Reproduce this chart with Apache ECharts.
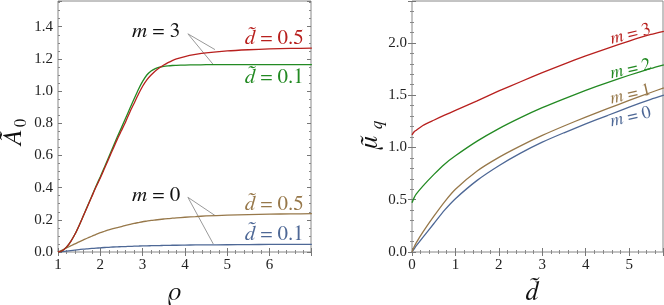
<!DOCTYPE html>
<html><head><meta charset="utf-8">
<script src="https://cdn.jsdelivr.net/npm/echarts@6/dist/echarts.min.js"></script>
<style>html,body{margin:0;padding:0;background:#fff}#c{width:664px;height:305px}</style>
</head><body><div id="c"></div>
<script>
// ---- Left panel data: A0 vs rho ----
const rho      = [1,1.1,1.2,1.3,1.4,1.5,1.6,1.7,1.8,1.9,2,2.1,2.2,2.3,2.4,2.5,2.6,2.7,2.8,2.9,3,3.1,3.2,3.3,3.4,3.5,3.6,3.7,3.8,4,4.25,4.5,5,5.5,6,6.5,7];
const A_m3_d05 = [0,0.008,0.03,0.065,0.11,0.165,0.225,0.285,0.345,0.405,0.46,0.52,0.58,0.64,0.70,0.755,0.81,0.87,0.925,0.98,1.03,1.07,1.10,1.125,1.145,1.162,1.177,1.19,1.20,1.215,1.228,1.238,1.25,1.257,1.262,1.265,1.267];
const A_m3_d01 = [0,0.008,0.03,0.065,0.11,0.165,0.225,0.287,0.348,0.41,0.468,0.528,0.59,0.652,0.714,0.773,0.833,0.893,0.952,1.01,1.06,1.10,1.125,1.14,1.149,1.154,1.157,1.159,1.16,1.162,1.163,1.164,1.165,1.165,1.165,1.165,1.165];
const A_m0_d05 = [0,0.012,0.025,0.038,0.05,0.063,0.075,0.087,0.098,0.11,0.12,0.129,0.138,0.146,0.152,0.158,0.166,0.172,0.178,0.183,0.188,0.192,0.196,0.199,0.202,0.205,0.208,0.21,0.212,0.216,0.22,0.224,0.229,0.232,0.235,0.237,0.238];
const A_m0_d01 = [0,0.003,0.006,0.009,0.012,0.015,0.018,0.02,0.022,0.024,0.026,0.028,0.029,0.031,0.032,0.033,0.034,0.035,0.036,0.037,0.038,0.038,0.039,0.04,0.04,0.041,0.041,0.042,0.042,0.043,0.044,0.044,0.045,0.046,0.047,0.047,0.048];
// ---- Right panel data: mu_q vs d ----
const dvals = [0,0.05,0.1,0.25,0.5,0.75,1,1.5,2,2.5,3,3.5,4,4.5,5,5.5,5.8];
const mu_m3 = [1.12,1.15,1.165,1.21,1.26,1.308,1.354,1.445,1.54,1.628,1.715,1.797,1.875,1.948,2.017,2.08,2.11];
const mu_m2 = [0.47,0.52,0.555,0.63,0.74,0.84,0.92,1.06,1.18,1.285,1.38,1.465,1.545,1.62,1.69,1.755,1.79];
const mu_m1 = [0,0.05,0.09,0.19,0.34,0.48,0.60,0.775,0.905,1.015,1.115,1.205,1.29,1.37,1.45,1.525,1.57];
const mu_m0 = [0,0.03,0.06,0.14,0.27,0.40,0.51,0.685,0.825,0.945,1.05,1.14,1.225,1.305,1.385,1.46,1.50];

const C = {red:'#B8201E', green:'#238A23', brown:'#97784A', blue:'#4E6896'};
const FONT = 'Liberation Serif';
const MATH = 'FreeSerif';
const zip = (xs, ys) => xs.map((x,i)=>[x, ys[i]]);

function fmtStep(step){ return v => Math.abs(v/step - Math.round(v/step)) < 1e-6 ? v.toFixed(1) : ''; }
function fmtInt(v){ return Math.abs(v-Math.round(v))<1e-6 ? String(Math.round(v)) : ''; }

const tickStyle = {inside:true, length:4, lineStyle:{color:'#777', width:1}};
const minorStyle = (n)=>({show:true, splitNumber:n, length:2, lineStyle:{color:'#888', width:1}});
const lbl = {fontFamily:FONT, fontSize:15, color:'#222'};

function xAx(grid, min, max, pos, labels, minorN){
  return {type:'value', gridIndex:grid, min, max, interval:1, position:pos,
    axisLine:{show:false}, splitLine:{show:false},
    axisTick:tickStyle, minorTick:minorStyle(minorN),
    axisLabel: labels ? Object.assign({formatter:fmtInt, margin:6, showMaxLabel:false}, lbl) : {show:false}};
}
function yAx(grid, min, max, step, pos, labels, minorN){
  return {type:'value', gridIndex:grid, min, max, interval:step, position:pos,
    axisLine:{show:false}, splitLine:{show:false},
    axisTick:tickStyle, minorTick:minorStyle(minorN),
    axisLabel: labels ? Object.assign({formatter:fmtStep(step), margin:5, showMaxLabel:false}, lbl) : {show:false}};
}
const line = (x, y, data, color) => ({type:'line', xAxisIndex:x, yAxisIndex:y, data, showSymbol:false, symbol:'none',
  smooth:0.2, lineStyle:{color, width:1.3}, silent:true, animation:false});

const chart = echarts.init(document.getElementById('c'), null, {renderer:'canvas'});
chart.setOption({
  animation:false,
  textStyle:{fontFamily:FONT},
  grid:[
    {left:58, top:1, width:253, height:251, show:true, borderColor:'#888', borderWidth:1},
    {left:412, top:1, width:251, height:251, show:true, borderColor:'#888', borderWidth:1}
  ],
  xAxis:[
    xAx(0, 1, 6.98, 'bottom', true, 5),
    xAx(0, 1, 6.98, 'top', false, 5),
    xAx(1, 0, 5.78, 'bottom', true, 5),
    xAx(1, 0, 5.78, 'top', false, 5)
  ],
  yAxis:[
    yAx(0, 0, 1.56, 0.2, 'left', true, 4),
    yAx(0, 0, 1.56, 0.2, 'right', false, 4),
    yAx(1, 0, 2.4, 0.5, 'left', true, 5),
    yAx(1, 0, 2.4, 0.5, 'right', false, 5)
  ],
  series:[
    line(0,0, zip(rho, A_m0_d01), C.blue),
    line(0,0, zip(rho, A_m0_d05), C.brown),
    line(0,0, zip(rho, A_m3_d01), C.green),
    line(0,0, zip(rho, A_m3_d05), C.red),
    line(2,2, zip(dvals, mu_m0), C.blue),
    line(2,2, zip(dvals, mu_m1), C.brown),
    line(2,2, zip(dvals, mu_m2), C.green),
    line(2,2, zip(dvals, mu_m3), C.red)
  ]
});

// annotations positioned through the chart's own coordinate conversion
const P = (g, pt) => chart.convertToPixel({seriesIndex: g === 0 ? 0 : 4}, pt);
const rich = (color, size) => ({
  i:{fontFamily:MATH, fontStyle:'italic', fontSize:size, fill:color},
  n:{fontFamily:MATH, fontSize:size, fill:color}
});
const els = [];
function txt(g, pt, text, color, size, rot){
  const p = P(g, pt);
  els.push({type:'text', x:p[0], y:p[1], rotation:(rot||0)*Math.PI/180, silent:true,
    style:{text, rich:rich(color,size), align:'center', verticalAlign:'middle'}});
}
function seg(g, a, b){
  const p = P(g,a), q = P(g,b);
  els.push({type:'line', silent:true, shape:{x1:p[0],y1:p[1],x2:q[0],y2:q[1]}, style:{stroke:'#999', lineWidth:1}});
}
// left panel
txt(0, [3.32, 1.373], '{i|m}{n| = 3}', '#111', 21);
seg(0, [4.07, 1.356], [4.71, 1.258]);
seg(0, [4.07, 1.356], [4.67, 1.165]);
txt(0, [6.11, 1.33], '{i|d̃}{n| = 0.5}', C.red, 21);
txt(0, [6.11, 1.088], '{i|d̃}{n| = 0.1}', C.green, 21);
txt(0, [3.32, 0.357], '{i|m}{n| = 0}', '#111', 21);
seg(0, [4.07, 0.34], [4.71, 0.227]);
seg(0, [4.07, 0.34], [4.67, 0.05]);
txt(0, [6.11, 0.298], '{i|d̃}{n| = 0.5}', C.brown, 21);
txt(0, [6.11, 0.114], '{i|d̃}{n| = 0.1}', C.blue, 21);
// right panel
txt(2, [5.03, 2.09], '{i|m}{n| = 3}', C.red, 18, 14);
txt(2, [5.03, 1.755], '{i|m}{n| = 2}', C.green, 18, 13);
txt(2, [5.03, 1.515], '{i|m}{n| = 1}', C.brown, 18, 13);
txt(2, [5.03, 1.297], '{i|m}{n| = 0}', C.blue, 18, 13);

// axis titles
const T = (x, y, text, font, rot) => els.push({type:'text', x, y, rotation:rot||0, silent:true,
  style:{text, font, fill:'#111', align:'center', verticalAlign:'middle'}});
T(175, 292, 'ρ', 'italic 26px ' + MATH);
T(532, 292, 'd̃', 'italic 26px ' + MATH);
T(13, 138, 'Ã', 'italic 26px ' + MATH, Math.PI/2);
T(21, 123, '0', '17px ' + MATH, Math.PI/2);
T(369, 142, 'μ̃', 'italic 26px ' + MATH, Math.PI/2);
T(377, 125, 'q', 'italic 17px ' + MATH, Math.PI/2);
chart.setOption({graphic:els});
</script></body></html>
